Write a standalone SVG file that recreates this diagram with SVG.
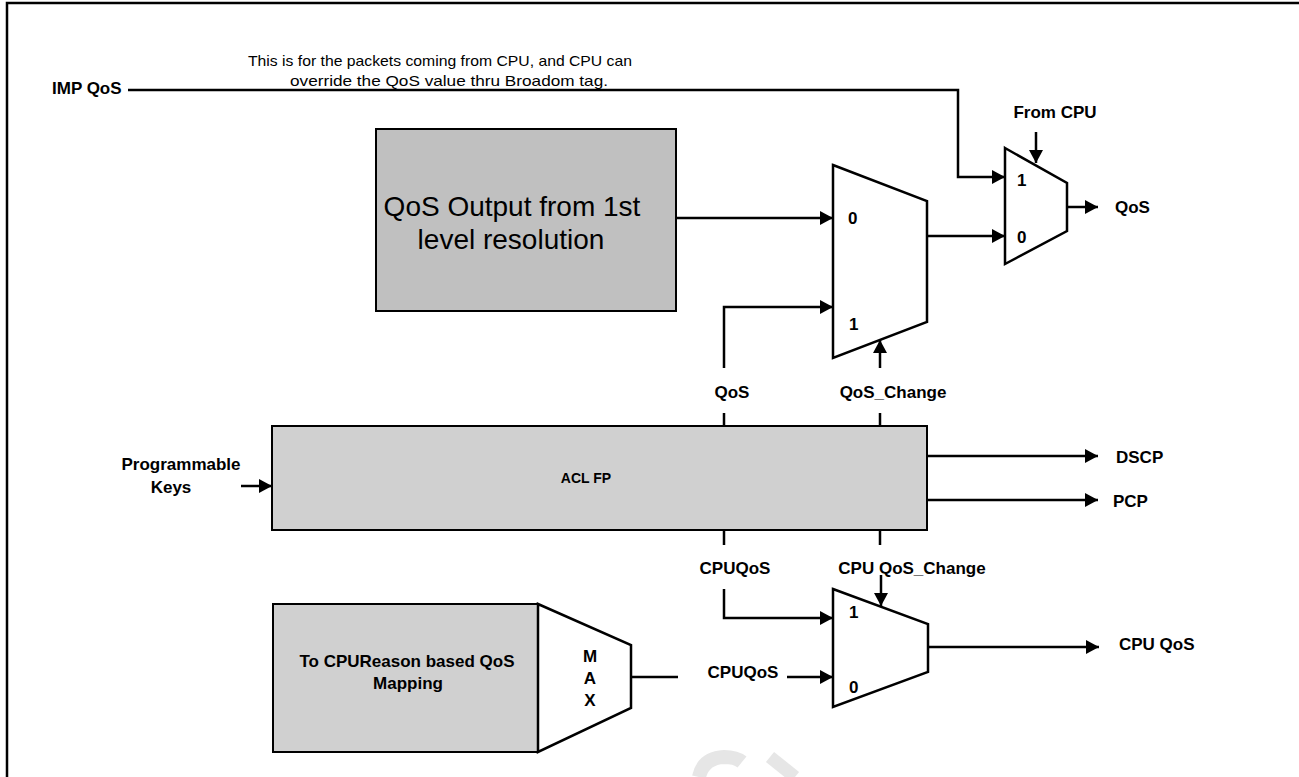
<svg xmlns="http://www.w3.org/2000/svg" width="1299" height="777" viewBox="0 0 1299 777">
<defs>
<marker id="arr" markerUnits="userSpaceOnUse" markerWidth="14" markerHeight="14" refX="13" refY="7" orient="auto">
<path d="M0,0 L13,7 L0,14 z" fill="#000"/>
</marker>
<style>
.lbl{font-family:"Liberation Sans",Arial,sans-serif;font-weight:bold;font-size:17px;fill:#000}
.reg{font-family:"Liberation Sans",Arial,sans-serif;font-size:15px;fill:#000}
.big{font-family:"Liberation Sans",Arial,sans-serif;font-size:28px;fill:#000}
.w{fill:none;stroke:#000;stroke-width:2.5}
.a{fill:none;stroke:#000;stroke-width:2.5;marker-end:url(#arr)}
.box{stroke:#000;stroke-width:2}
.mux{fill:#fff;stroke:#000;stroke-width:2.5}
</style>
</defs>
<rect width="1299" height="777" fill="#fff"/>
<path d="M7,777 V3 H1299" fill="none" stroke="#000" stroke-width="2.5"/>
<g id="watermark" fill="none" stroke="#e6e6e6">
<path d="M699,777 Q703,758 724,757 Q736,757 742,762" stroke-width="14"/>
<path d="M770,757 L795,777" stroke-width="13"/>
</g>
<g id="note">
<text class="reg" x="440" y="66" text-anchor="middle" textLength="384" lengthAdjust="spacingAndGlyphs">This is for the packets coming from CPU, and CPU can</text>
<text class="reg" x="449" y="86" text-anchor="middle" textLength="318" lengthAdjust="spacingAndGlyphs">override the QoS value thru Broadom tag.</text>
</g>
<g id="imp-qos"><text class="lbl" x="52" y="94">IMP QoS</text></g>
<g id="qos-first-level">
<rect class="box" x="376" y="129" width="300" height="182" fill="#c0c0c0"/>
<text class="big" x="512" y="216" text-anchor="middle">QoS Output from 1st</text>
<text class="big" x="511" y="249" text-anchor="middle">level resolution</text>
</g>
<g id="mux-mid">
<polygon class="mux" points="833,165 927,201 927,322 833,358"/>
<text class="lbl" x="848" y="224">0</text>
<text class="lbl" x="849" y="330">1</text>
</g>
<g id="mux-top">
<polygon class="mux" points="1005,148 1067,183 1067,231 1005,264"/>
<text class="lbl" x="1017" y="186">1</text>
<text class="lbl" x="1017" y="243">0</text>
</g>
<g id="from-cpu"><text class="lbl" x="1055" y="118" text-anchor="middle">From CPU</text></g>
<g id="qos-out"><text class="lbl" x="1115" y="213">QoS</text></g>
<g id="acl-fp">
<rect class="box" x="272" y="426" width="655" height="104" fill="#d0d0d0"/>
<text class="lbl" x="586" y="483" text-anchor="middle" style="font-size:14px">ACL FP</text>
</g>
<g id="prog-keys">
<text class="lbl" x="181" y="470" text-anchor="middle">Programmable</text>
<text class="lbl" x="171" y="493" text-anchor="middle">Keys</text>
</g>
<g id="acl-labels">
<text class="lbl" x="732" y="398" text-anchor="middle">QoS</text>
<text class="lbl" x="893" y="398" text-anchor="middle">QoS_Change</text>
<text class="lbl" x="735" y="574" text-anchor="middle">CPUQoS</text>
<text class="lbl" x="912" y="574" text-anchor="middle">CPU QoS_Change</text>
</g>
<g id="dscp"><text class="lbl" x="1116" y="463">DSCP</text></g>
<g id="pcp"><text class="lbl" x="1113" y="507">PCP</text></g>
<g id="cpureason">
<rect class="box" x="273" y="604" width="265" height="148" fill="#d0d0d0"/>
<text class="lbl" x="407" y="667" text-anchor="middle">To CPUReason based QoS</text>
<text class="lbl" x="408" y="689" text-anchor="middle">Mapping</text>
</g>
<g id="max">
<polygon class="mux" points="538,604 631,645 631,708 538,752"/>
<text class="lbl" x="590" y="662" text-anchor="middle">M</text>
<text class="lbl" x="590" y="684" text-anchor="middle">A</text>
<text class="lbl" x="590" y="706" text-anchor="middle">X</text>
</g>
<g id="mux-bottom">
<polygon class="mux" points="833,589 928,624 928,672 833,707"/>
<text class="lbl" x="849" y="618">1</text>
<text class="lbl" x="849" y="693">0</text>
</g>
<g id="cpuqos-in"><text class="lbl" x="743" y="678" text-anchor="middle">CPUQoS</text></g>
<g id="cpu-qos-out"><text class="lbl" x="1119" y="650">CPU QoS</text></g>
<g id="connectors">
<path class="a" d="M128,90 H958 V177 H1005"/>
<path class="a" d="M676,218 H833"/>
<path class="a" d="M927,236 H1005"/>
<path class="a" d="M1036,132 V163"/>
<path class="a" d="M1067,207 H1098"/>
<path class="a" d="M724,368 V307 H833"/>
<path class="a" d="M880,368 V340"/>
<path class="w" d="M724,413 V426 M880,413 V426"/>
<path class="a" d="M241,486 H272"/>
<path class="a" d="M927,456 H1098"/>
<path class="a" d="M927,500 H1098"/>
<path class="w" d="M724,530 V545 M880,530 V545"/>
<path class="a" d="M724,589 V618 H833"/>
<path class="a" d="M881,575 V606"/>
<path class="a" d="M787,677 H833"/>
<path class="a" d="M928,647 H1099"/>
<path class="w" d="M631,677 H678"/>
</g>
</svg>
